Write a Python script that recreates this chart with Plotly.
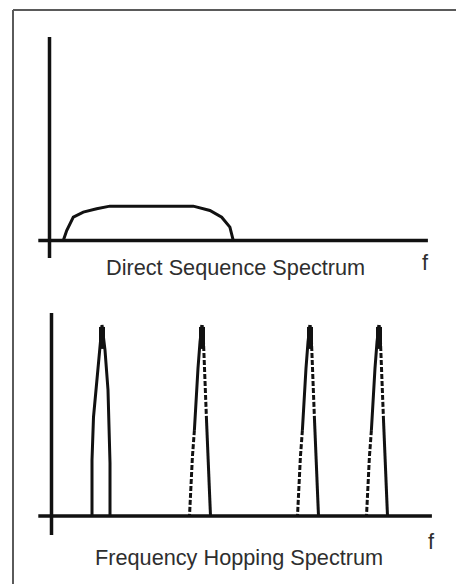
import plotly.graph_objects as go

# ---------------- data ----------------
# Direct sequence spectrum: frequency (arb. units) vs normalized amplitude
ds_freq = [3.45, 4.3, 5.95, 8.45, 11.8, 15.1, 35.95, 40.1, 43.05, 45.1, 45.95]
ds_amp = [0.0, 0.052, 0.122, 0.149, 0.166, 0.18, 0.18, 0.157, 0.122, 0.07, 0.0]

# Frequency hopping spectrum: hop centre frequencies and drawing style
fh_centers = [12.625, 37.625, 64.625, 81.875]
fh_styles = ["solid", "mixed", "mixed", "mixed"]

# peak outline for the solid hop (offset from centre, amplitude)
solid_left_df = [-2.5, -2.5, -2.125, -1.25, -0.5, 0.0]
solid_left_amp = [0.0, 0.293, 0.518, 0.712, 0.869, 1.0]
solid_right_df = [0.0, 0.75, 1.5, 2.0, 2.0]
solid_right_amp = [1.0, 0.869, 0.660, 0.277, 0.0]

# peak outline for the mixed (solid + dashed) hops
mixed_left_solid_df = [0.0, -0.5, -1.0, -1.5, -1.9]
mixed_left_solid_amp = [1.0, 0.911, 0.775, 0.607, 0.45]
mixed_left_dash_df = [-1.9, -2.4, -3.125]
mixed_left_dash_amp = [0.45, 0.309, 0.0]
mixed_right_dash_df = [0.0, 0.375, 1.125]
mixed_right_dash_amp = [1.0, 0.911, 0.503]
mixed_right_solid_df = [1.125, 1.625, 2.125]
mixed_right_solid_amp = [0.503, 0.241, 0.0]

# filled tip of every hop (amplitude span)
tip_amp = [0.99, 0.875]

# axis extents (frequency, amplitude)
top_faxis = [-2.8, 94.6]
top_aaxis = [1.065, -0.092]
bot_faxis = [-3.3, 95.1]
bot_aaxis = [1.063, -0.099]

# labels
top_label = "Direct Sequence Spectrum"
bot_label = "Frequency Hopping Spectrum"
freq_symbol = "f"

# ---------------- figure ----------------
INK = "#111111"
LW = 3
fig = go.Figure()


def line(x, y, axis, dash="solid", width=LW):
    xa, ya = ("x", "y") if axis == 1 else ("x2", "y2")
    fig.add_trace(go.Scatter(x=x, y=y, mode="lines", xaxis=xa, yaxis=ya,
                             line=dict(color=INK, width=width, dash=dash),
                             hoverinfo="skip", showlegend=False))


# top panel axes
line(top_faxis, [0, 0], 1, width=3.5)
line([0, 0], top_aaxis, 1, width=3.5)
# direct sequence curve
line(ds_freq, ds_amp, 1)

# bottom panel axes
line(bot_faxis, [0, 0], 2, width=3.5)
line([0, 0], bot_aaxis, 2, width=3.5)

# hop peaks
DASH = "5px,2px"
for c, st in zip(fh_centers, fh_styles):
    if st == "solid":
        line([c + d for d in solid_left_df] + [c + d for d in solid_right_df[1:]],
             solid_left_amp + solid_right_amp[1:], 2)
    else:
        line([c + d for d in mixed_left_solid_df], mixed_left_solid_amp, 2)
        line([c + d for d in mixed_left_dash_df], mixed_left_dash_amp, 2, dash=DASH)
        line([c + d for d in mixed_right_dash_df], mixed_right_dash_amp, 2, dash=DASH)
        line([c + d for d in mixed_right_solid_df], mixed_right_solid_amp, 2)
    line([c, c], tip_amp, 2, width=6)

TXT = dict(family="Liberation Sans, Arial, sans-serif", size=21.7, color="#2e2e2e")
fig.add_annotation(x=46.6, y=-0.141, xref="x", yref="y", text=top_label,
                   showarrow=False, font=TXT, xanchor="center", yanchor="middle")
fig.add_annotation(x=93.9, y=-0.113, xref="x", yref="y", text=freq_symbol,
                   showarrow=False, font=TXT, xanchor="center", yanchor="middle")
fig.add_annotation(x=46.9, y=-0.215, xref="x2", yref="y2", text=bot_label,
                   showarrow=False, font=TXT, xanchor="center", yanchor="middle")
fig.add_annotation(x=95.1, y=-0.136, xref="x2", yref="y2", text=freq_symbol,
                   showarrow=False, font=TXT, xanchor="center", yanchor="middle")

# frame border (top and left)
BORDER = dict(color="#5a5a5a", width=2)
fig.add_shape(type="line", xref="paper", yref="paper",
              x0=13 / 456, x1=1.0, y0=1 - 10 / 584, y1=1 - 10 / 584, line=BORDER)
fig.add_shape(type="line", xref="paper", yref="paper",
              x0=13 / 456, x1=13 / 456, y0=0.0, y1=1 - 10 / 584, line=BORDER)

hidden = dict(visible=False, showgrid=False, zeroline=False, fixedrange=True)
fig.update_layout(
    width=456, height=584,
    margin=dict(l=0, r=0, t=0, b=0),
    paper_bgcolor="white", plot_bgcolor="rgba(0,0,0,0)",
    xaxis=dict(domain=[0, 1], range=[-12.375, 101.625], anchor="y", **hidden),
    yaxis=dict(domain=[0, 1], range=[-1.798, 1.259], anchor="x", **hidden),
    xaxis2=dict(domain=[0, 1], range=[-12.875, 101.125], anchor="y2", **hidden),
    yaxis2=dict(domain=[0, 1], range=[-0.356, 2.702], anchor="x2", **hidden),
)

fig.write_html("out.html", config={"displayModeBar": False},
               post_script="document.body.style.margin='0';"
                           "document.body.style.overflow='hidden';")
